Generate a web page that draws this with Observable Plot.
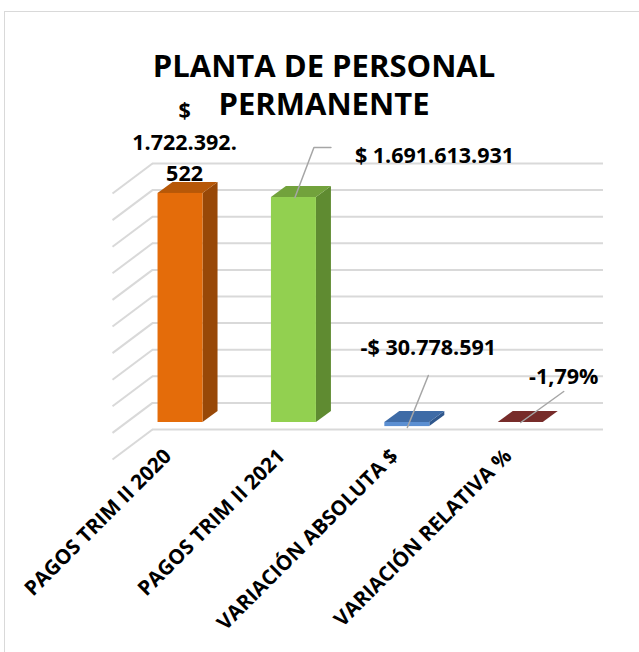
<!DOCTYPE html>
<html><head><meta charset="utf-8">
<script src="https://cdn.jsdelivr.net/npm/d3@7"></script>
<script src="https://cdn.jsdelivr.net/npm/@observablehq/plot@0.6"></script>
<style>
body{margin:0;background:#fff;overflow:hidden}
#wrap{position:relative;width:639px;height:652px;overflow:hidden;font-family:"Open Sans",sans-serif;background:#fff}
#frame{position:absolute;left:4px;top:11px;width:700px;height:700px;border:1.5px solid #d9d9d9;box-sizing:border-box}
#chart{position:absolute;left:0;top:0}
#title{position:absolute;left:0;width:648px;top:46px;text-align:center;font-weight:700;font-size:31px;line-height:38px;color:#000}
</style></head><body>
<div id="wrap"><div id="frame"></div><div id="chart"></div><div id="title">PLANTA DE PERSONAL<br>PERMANENTE</div></div>
<script>
// ---- data ----
const categories = ["PAGOS TRIM II 2020", "PAGOS TRIM II 2021", "VARIACIÓN ABSOLUTA $", "VARIACIÓN RELATIVA %"];
const values = [1722392522, 1691613931, -30778591, -1.79];
const valueLabels = ["$\n1.722.392.\n522", "$ 1.691.613.931", "-$ 30.778.591", "-1,79%"];
const yTicks = [0, 200000000, 400000000, 600000000, 800000000, 1000000000, 1200000000, 1400000000, 1600000000, 1800000000, 2000000000];
const frontColors = ["#E46C0A", "#92D050", "#5B8FD2", "#8A3431"];
const sideColors  = ["#984807", "#5F8B31", "#2F578C", "#5A1F1D"];
const topColors   = ["#B75808", "#72A23C", "#3E6BA6", "#772C2A"];

// ---- layout ----
const W = 639, H = 652, mT = 156, mB = 230, mL = 112, mR = 36;
const xDomain = [-0.6, 3.73], yDomain = [0, 2000000000];
const pxX = (W - mL - mR) / (xDomain[1] - xDomain[0]);
const pxY = (H - mT - mB) / (yDomain[1] - yDomain[0]);
const X = px => px / pxX, Y = px => px / pxY;
const hw = X(22.5), dX = X(15), dY = Y(11);       // bar half width & 3-D depth
const wallX = xDomain[0] + X(40), wallDY = Y(30), wallShift = 7;

const bars = categories.map((c, i) => ({i, c, v: values[i], lo: Math.min(0, values[i]), hi: Math.max(0, values[i])}));
const sidePts = bars.flatMap(d => [
  {i: d.i, x: d.i + hw, y1: d.lo, y2: d.hi},
  {i: d.i, x: d.i + hw + dX, y1: d.lo + dY, y2: d.hi + dY}]);
const topPts = bars.flatMap(d => [
  {i: d.i, x: d.i - hw, y1: d.hi, y2: d.hi},
  {i: d.i, x: d.i - hw + dX, y1: d.hi, y2: d.hi + dY},
  {i: d.i, x: d.i + hw, y1: d.hi, y2: d.hi + dY},
  {i: d.i, x: d.i + hw + dX, y1: d.hi + dY, y2: d.hi + dY}]);

// leader lines (pixel offsets from the bar top)
const leaderOffsets = [null, [[1, 0], [20, -50], [37, -50]], [[0, 5], [21, -47]], [[0, 0], [43, -31]]];
const leaderPts = bars.flatMap(d => leaderOffsets[d.i] ? leaderOffsets[d.i].map(([ox, oy]) => ({i: d.i, x: d.i + X(ox), y: d.hi - Y(oy)})) : []);
const labelPos = [{dx: 4, dy: -54, a: "middle"}, {dx: 61, dy: -45, a: "start"}, {dx: 21, dy: -78, a: "middle"}, {dx: 43, dy: -49, a: "middle"}];

const plot = Plot.plot({
  width: W, height: H,
  marginTop: mT, marginBottom: mB, marginLeft: mL, marginRight: mR,
  style: {fontFamily: "'Open Sans', sans-serif", background: "transparent", overflow: "visible"},
  x: {domain: xDomain, axis: null},
  y: {domain: yDomain, axis: null},
  color: {type: "identity"},
  marks: [
    Plot.ruleY(yTicks, {y: d => d, x1: wallX, x2: xDomain[1], dy: wallShift, stroke: "#d9d9d9", strokeWidth: 2}),
    Plot.link(yTicks, {x1: xDomain[0], y1: d => d - wallDY, x2: wallX, y2: d => d, dy: wallShift, stroke: "#d9d9d9", strokeWidth: 2}),
    Plot.areaY(sidePts, {x: "x", y1: "y1", y2: "y2", z: "i", fill: d => sideColors[d.i]}),
    Plot.areaY(topPts, {x: "x", y1: "y1", y2: "y2", z: "i", fill: d => topColors[d.i]}),
    Plot.rect(bars, {x1: d => d.i - hw, x2: d => d.i + hw, y1: "lo", y2: "hi", fill: d => frontColors[d.i]}),
    Plot.line(leaderPts, {x: "x", y: "y", z: "i", stroke: "#a6a6a6", strokeWidth: 1.5}),
    ...bars.map(d => Plot.text([d], {x: "i", y: "hi", text: () => valueLabels[d.i], dx: labelPos[d.i].dx, dy: labelPos[d.i].dy,
      textAnchor: labelPos[d.i].a, lineHeight: 1.48, fontSize: 21.5, fontWeight: "bold", fill: "#000"})),
    Plot.text(bars, {x: "i", frameAnchor: "bottom", text: "c", rotate: -45, textAnchor: "end", dx: -8, dy: 35,
      fontSize: 20.5, fontWeight: "bold", fill: "#000"})
  ]
});
document.getElementById("chart").appendChild(plot);
</script>
</body></html>
